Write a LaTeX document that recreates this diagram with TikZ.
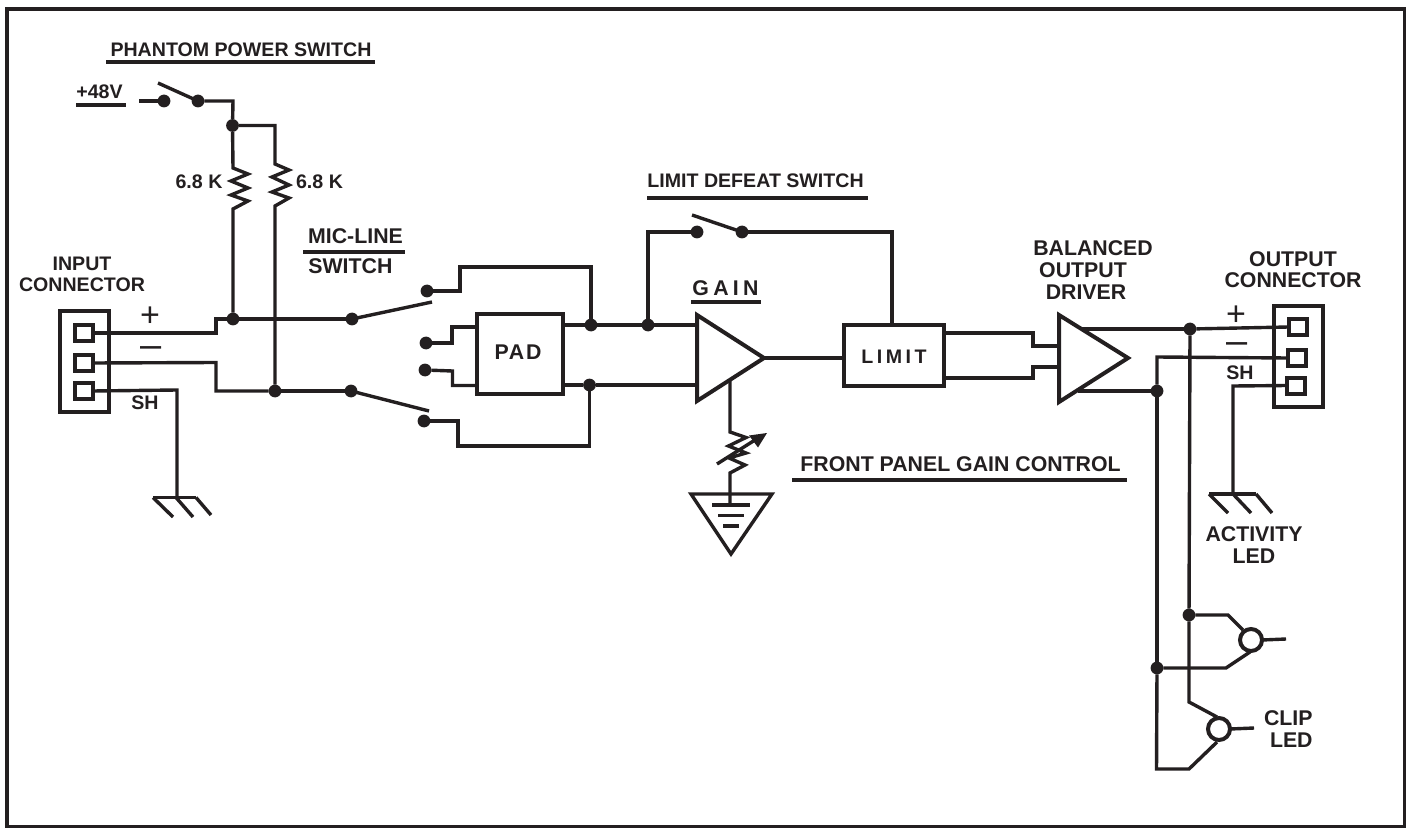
\documentclass[tikz,border=0pt]{standalone}
\usepackage{fontspec}
\setmainfont{Liberation Sans}
\definecolor{ink}{HTML}{231F20}
\newfontfamily\spaceda[LetterSpace=8]{Liberation Sans}
\newfontfamily\spacedb[LetterSpace=20]{Liberation Sans}
\newfontfamily\spacedc[LetterSpace=18]{Liberation Sans}
\tikzset{
  wire/.style={draw=ink,line width=1.7pt,line join=miter},
  heavy/.style={draw=ink,line width=2pt,line join=miter},
  rulestroke/.style={draw=ink,line width=2pt},
  dot/.style={circle,fill=ink,draw=none,minimum size=6.4pt,inner sep=0pt,outer sep=0pt},
  lbl/.style={text=ink,font=\fontsize{9.8}{10.5}\selectfont\bfseries,inner sep=0pt,align=center},
  big/.style={text=ink,font=\fontsize{10.65}{10.7}\selectfont\bfseries,inner sep=0pt,align=center},
  plussign/.style={text=ink,font=\fontsize{17}{17}\selectfont,inner sep=0pt},
  minussign/.style={text=ink,font=\fontsize{19}{19}\selectfont,inner sep=0pt},
  block/.style={heavy,rectangle,inner sep=0pt,outer sep=0pt,fill=white},
  bubble/.style={heavy,circle,minimum size=11pt,inner sep=0pt,outer sep=0pt,fill=white},
}
\begin{document}
\begin{tikzpicture}[x=0.5pt,y=-0.5pt]
\useasboundingbox (0,0) rectangle (1406,828);
\draw[draw=ink,line width=2pt] (7,9.5) rectangle (1405,827);

% ---------- junctions and contacts
\node[dot] (pp1) at (164,101) {};
\node[dot] (pp2) at (198,101) {};
\node[dot] (pj) at (232.5,125.5) {};
\node[dot] (j1) at (233,319) {};
\node[dot] (j2) at (275,391) {};
\node[dot] (s1) at (352,319) {};
\node[dot] (s2) at (351,391) {};
\node[dot] (c1) at (427,291) {};
\node[dot] (c2) at (426,343) {};
\node[dot] (c3) at (425,370) {};
\node[dot] (c4) at (424,421) {};
\node[dot] (j3) at (591,325) {};
\node[dot] (j4) at (589.5,385) {};
\node[dot] (j5) at (648,325) {};
\node[dot] (ld1) at (697,232) {};
\node[dot] (ld2) at (742,232) {};
\node[dot] (j6) at (1190,329) {};
\node[dot] (j7) at (1157,391) {};
\node[dot] (j8) at (1189,615) {};
\node[dot] (j9) at (1157,668) {};

% ---------- boxes
\node[block,minimum width=24.5pt,minimum height=50.5pt] (inbox) at (84.5,361.5) {};
\node[block,minimum width=9pt,minimum height=8pt] (in1) at (84,333) {};
\node[block,minimum width=9pt,minimum height=8pt] (in2) at (83.5,363) {};
\node[block,minimum width=9pt,minimum height=8pt] (in3) at (83.5,391) {};
\node[block,minimum width=24.5pt,minimum height=50.5pt] (outbox) at (1298,356.5) {};
\node[block,minimum width=9pt,minimum height=8pt] (out1) at (1297.5,327) {};
\node[block,minimum width=9pt,minimum height=8pt] (out2) at (1296.5,358) {};
\node[block,minimum width=9pt,minimum height=8pt] (out3) at (1296,385.5) {};
\node[block,minimum width=43pt,minimum height=40pt] (pad) at (520,354) {};
\node[block,minimum width=50pt,minimum height=30.5pt] (limit) at (894,355.5) {};

% ---------- phantom power
\coordinate (v48) at (139,101);
\coordinate (bl1) at (158,83);
\draw[wire] (v48) -- (pp1);
\draw[wire] (bl1) -- (pp2.center);
\draw[wire] (pp2) -- (233,101) -- (pj);
\draw[wire] (pj) -- (275,125.5) -- (275,164) -- (289,170) -- (272,177) -- (289,185) -- (272,192) -- (289,198) -- (275,206) -- (j2);
\draw[wire] (pj) -- (233,168) -- (248,174) -- (231,181) -- (248,188) -- (231,195) -- (248,201) -- (233,209) -- (j1);

% ---------- input wiring
\draw[wire] (in1.east) -- (216,333) -- (216,319) -- (j1);
\draw[wire] (j1) -- (s1);
\draw[wire] (in2.east) -- (216,362.5) -- (216,391) -- (j2);
\draw[wire] (j2) -- (s2);
\draw[wire] (in3.east) -- (177,390) -- (177,497) coordinate (g1);
\draw[wire] (153,497.5) -- (196,497.5);
\draw[wire] (153,497.5) -- (173,517);
\draw[wire] (g1) ++(-1,0.5) -- (193,517);
\draw[wire] (196,497.5) -- (211,515);

% ---------- mic-line switch
\coordinate (b1) at (432,302);
\coordinate (b2) at (429,411);
\draw[wire] (s1.center) -- (b1);
\draw[wire] (s2.center) -- (b2);
\draw[wire] (c1) -- (460,291) -- (460,267) -- (591,267) -- (j3);
\draw[wire] (c4) -- (458,421) -- (458,446) -- (589.5,446) -- (j4);
\draw[wire] (c2) -- (452,343) -- (452,327) -- (pad.west |- 0,327);
\draw[wire] (c3) -- (452.5,371) -- (452.5,385.5) -- (pad.west |- 0,385.5);

% ---------- gain stage
\coordinate (ga) at (697,315);
\coordinate (gb) at (697,401);
\coordinate (gc) at (764,358);
\draw[wire] (pad.east |- j3) -- (j3);
\draw[wire] (j3) -- (j5);
\draw[wire] (j5) -- (ga |- j5);
\draw[wire] (pad.east |- j4) -- (j4);
\draw[wire] (j4) -- (gb |- j4);
\draw[heavy] (ga) -- (gb) -- (gc) -- cycle;
\draw[wire] (gc) -- (limit.west |- gc);

% ---------- limit defeat
\coordinate (bl3) at (692,215);
\draw[wire] (j5) -- (648,232) -- (ld1);
\draw[wire] (bl3) -- (ld2.center);
\draw[wire] (ld2) -- (892,232) -- (892,325);

% ---------- gain control
\coordinate (pt) at (730,381);
\draw[wire] (pt) -- (730,432) -- (746,437.5) -- (728.5,446) -- (746,453) -- (729,458) -- (745,465) -- (730,473) -- (730,505);
\coordinate (ara) at (717,464);
\coordinate (arb) at (767,433);
\draw[wire] (ara) -- (755,440);
\fill[ink] (arb) -- (749,435.5) -- (758,447.5) -- cycle;
\coordinate (ta) at (691,494);
\coordinate (tb) at (772,494);
\coordinate (tc) at (731,554);
\draw[wire] (ta) -- (tb) -- (tc) -- cycle;
\draw[wire] (712,505) -- (750,505);
\draw[wire] (718,515.5) -- (744,515.5);
\draw[wire] (723,526) -- (739,526);

% ---------- output driver
\coordinate (oa) at (1059,315);
\coordinate (ob) at (1059,402);
\coordinate (oc) at (1128,358);
\draw[wire] (limit.east |- 0,333) -- (1033,333) -- (1033,346) -- (oa |- 0,346);
\draw[wire] (limit.east |- 0,378) -- (1033,378) -- (1033,367) -- (oa |- 0,367);
\draw[heavy] (oa) -- (ob) -- (oc) -- cycle;
\draw[wire] (1082,329) -- (j6);
\draw[wire] (j6) -- (out1.west);
\draw[wire] (1078,391) -- (j7);
\draw[wire] (out2.west) -- (1157,357) -- (j7);
\draw[wire] (out3.west) -- (1233,386) -- (1233,494) coordinate (g2);
\draw[wire] (1209,494) -- (1256,494);
\draw[wire] (1209,494) -- (1228,513);
\draw[wire] (g2) -- (1251,513);
\draw[wire] (1256,494) -- (1272,513);

% ---------- LED gates
\draw[wire] (j6) -- (j8);
\draw[wire] (j8) -- (1189,702) -- (1217,717);
\draw[wire] (j7) -- (j9);
\draw[wire] (j9) -- (1156.5,769) -- (1189,769) -- (1217,742);
\draw[wire] (j8) -- (1228,615) -- (1243,630);
\draw[wire] (j9) -- (1226,668) -- (1250,652);
\node[bubble] (g3) at (1251,640) {};
\node[bubble] (g4) at (1219,729) {};
\coordinate (o3) at (1286,639);
\coordinate (o4) at (1254,728);
\draw[wire] (g3.east) -- (o3);
\draw[wire] (g4.east) -- (o4);

% ---------- text
\node[lbl] (tpp) at (241,50) {PHANTOM POWER SWITCH};
\node[lbl,anchor=west] (t48) at (76,92) {+48V};
\node[lbl] (tr1) at (199,182) {6.8 K};
\node[lbl] (tr2) at (319.5,182) {6.8 K};
\node[big] (tml) at (355.5,236) {MIC-LINE};
\node[big,anchor=west] (tsw) at (308,266) {SWITCH};
\node[lbl] (tin) at (82,274) {INPUT\\CONNECTOR};
\node[plussign] (tp1) at (150,317) {+};
\node[minussign] (tm1) at (151,352) {\char"2013};
\node[lbl] (tsh1) at (145,403) {SH};
\node[big] (tpad) at (518,352) {\spaceda PAD};
\node[lbl,anchor=west] (tld) at (647,181) {LIMIT DEFEAT SWITCH};
\node[big] (tgain) at (725.5,288) {\spacedb GAIN};
\node[lbl] (tlim) at (894,357) {\spacedc LIMIT};
\node[big,anchor=west] (tfp) at (800,464) {FRONT PANEL GAIN CONTROL};
\node[big] (tbal) at (1093,248) {BALANCED};
\node[big] (tout) at (1083,270) {OUTPUT};
\node[big] (tdrv) at (1086,292) {DRIVER};
\node[big] (toc) at (1293,269.5) {OUTPUT\\CONNECTOR};
\node[plussign] (tp2) at (1236,316) {+};
\node[minussign] (tm2) at (1237,348) {\char"2013};
\node[lbl] (tsh2) at (1240,373) {SH};
\node[big] (tact) at (1254,545) {ACTIVITY\\LED};
\node[big,align=right,anchor=east] (tclip) at (1313,729) {CLIP\\LED};

% ---------- label rules
\coordinate (r1a) at (106,62.5); \coordinate (r1b) at (375,62.5);
\coordinate (r2a) at (76,105); \coordinate (r2b) at (126,105);
\coordinate (r3a) at (303,252); \coordinate (r3b) at (405,252);
\coordinate (r4a) at (647,198); \coordinate (r4b) at (868,198);
\coordinate (r5a) at (691,302); \coordinate (r5b) at (761,302);
\coordinate (r6a) at (792,480); \coordinate (r6b) at (1127,480);
\draw[rulestroke] (r1a) -- (r1b);
\draw[rulestroke] (r2a) -- (r2b);
\draw[rulestroke] (r3a) -- (r3b);
\draw[rulestroke] (r4a) -- (r4b);
\draw[rulestroke] (r5a) -- (r5b);
\draw[rulestroke] (r6a) -- (r6b);
\end{tikzpicture}
\end{document}
